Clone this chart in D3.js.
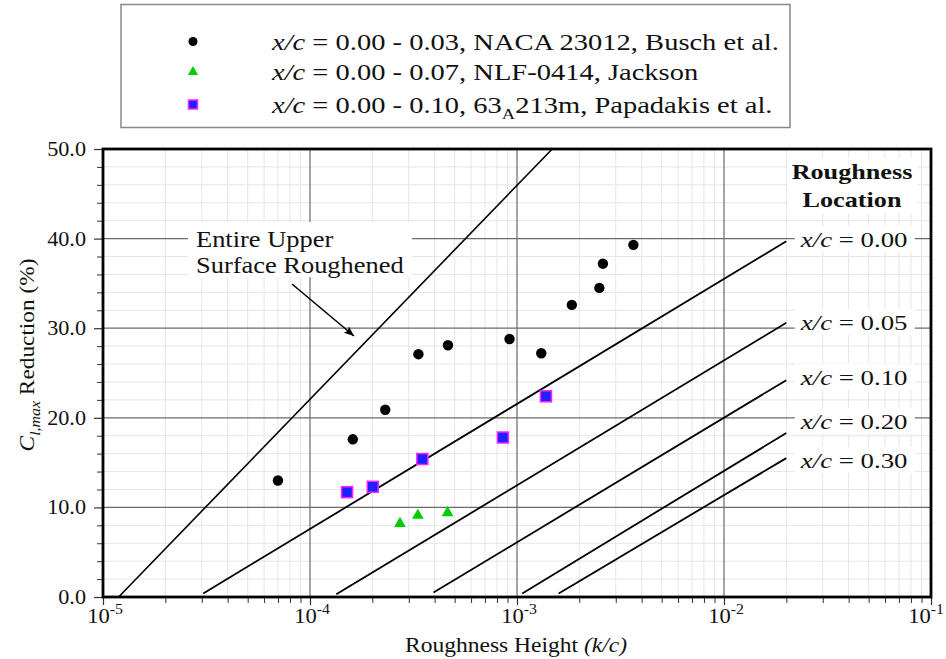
<!DOCTYPE html>
<html><head><meta charset="utf-8">
<script src="https://cdn.jsdelivr.net/npm/d3@7"></script>
<style>
body{margin:0;background:#fff;}
svg{display:block;font-family:"Liberation Serif","Times New Roman",serif;}
</style></head>
<body><svg id="c" width="946" height="659"></svg>
<script>
// ---- data ----
const buschX = [7.0e-5, 1.61e-4, 2.31e-4, 3.34e-4, 4.64e-4, 9.2e-4, 1.31e-3, 1.84e-3, 2.5e-3, 2.6e-3, 3.65e-3];
const buschY = [13.0, 17.6, 20.9, 27.1, 28.1, 28.8, 27.2, 32.6, 34.5, 37.2, 39.3];
const jacksonX = [2.72e-4, 3.32e-4, 4.62e-4];
const jacksonY = [8.2, 9.1, 9.4];
const papaX = [1.51e-4, 2.01e-4, 3.49e-4, 8.55e-4, 1.38e-3];
const papaY = [11.7, 12.3, 15.4, 17.8, 22.4];
const entireX = [1.19e-5, 1.48e-3];
const entireY = [0, 50];
const locLabels = ["0.00", "0.05", "0.10", "0.20", "0.30"];
const locStartX = [3.05e-5, 1.34e-4, 3.95e-4, 1.06e-3, 1.59e-3];
const locStartY = [0.4, 0.3, 0.5, 0.4, 0.4];
const locEndX = [0.02, 0.02, 0.02, 0.02, 0.02];
const locEndY = [39.7, 30.6, 24.2, 18.3, 15.5];
const locLabelY = [40.0, 30.7, 24.6, 19.6, 15.3];
const locLabelX = 0.0235;
const yTicks = [0, 10, 20, 30, 40, 50];
const xTicks = [1e-5, 1e-4, 1e-3, 1e-2, 1e-1];
const xTickExp = ["-5", "-4", "-3", "-2", "-1"];
const legendItems = [
  {range: "0.00 - 0.03, NACA 23012, Busch et al."},
  {range: "0.00 - 0.07, NLF-0414, Jackson"},
  {range: "0.00 - 0.10, 63", sub: "A", rest: "213m, Papadakis et al."}
];

// ---- layout ----
const svg = d3.select("#c");
const L = 103, R = 931, T = 149, B = 597;
const x = d3.scaleLog().domain([1e-5, 1e-1]).range([L, R]);
const y = d3.scaleLinear().domain([0, 50]).range([B, T]);

// text with horizontal stretch (reference typeface is wide)
function stext(parent, px, py, sx, size) {
  return parent.append("text")
    .attr("transform", `translate(${px},${py}) scale(${sx},1)`)
    .attr("font-size", size).attr("fill", "#111");
}

// minor grid
const minorX = [];
for (let e = -5; e < -1; e++) for (let m = 2; m <= 9; m++) minorX.push(m * Math.pow(10, e));
const minorY = d3.range(2, 50, 2).filter(v => v % 10 !== 0);
const g = svg.append("g");
g.selectAll(".mgx").data(minorX).join("line")
  .attr("x1", d => x(d)).attr("x2", d => x(d)).attr("y1", T).attr("y2", B)
  .attr("stroke", "#e6e6e6").attr("stroke-width", 1);
g.selectAll(".mgy").data(minorY).join("line")
  .attr("x1", L).attr("x2", R).attr("y1", d => y(d)).attr("y2", d => y(d))
  .attr("stroke", "#e6e6e6").attr("stroke-width", 1);
// major grid
g.selectAll(".Mgx").data(xTicks.slice(1, -1)).join("line")
  .attr("x1", d => x(d)).attr("x2", d => x(d)).attr("y1", T).attr("y2", B)
  .attr("stroke", "#6a6a6a").attr("stroke-width", 1.2);
g.selectAll(".Mgy").data(yTicks.slice(1, -1)).join("line")
  .attr("x1", L).attr("x2", R).attr("y1", d => y(d)).attr("y2", d => y(d))
  .attr("stroke", "#6a6a6a").attr("stroke-width", 1.2);

// axes
const fs = 20;
const yAxis = d3.axisLeft(y).tickValues(yTicks).tickFormat(d3.format(".1f")).tickSize(9).tickPadding(8);
const ya = svg.append("g").attr("transform", `translate(${L},0)`).call(yAxis);
ya.select(".domain").remove();
ya.selectAll("text").attr("font-size", fs).attr("font-family", "Liberation Serif").attr("fill", "#111")
  .attr("x", 0).attr("transform", "translate(-17,0) scale(1.11,1)");
ya.selectAll("line").attr("stroke", "#333").attr("stroke-width", 1.2);
const yMinor = svg.append("g").attr("transform", `translate(${L},0)`)
  .call(d3.axisLeft(y).tickValues(minorY).tickFormat("").tickSize(6));
yMinor.select(".domain").remove();
yMinor.selectAll("line").attr("stroke", "#333");

const xAxis = d3.axisBottom(x).tickValues(xTicks).tickFormat("").tickSize(8);
const xa = svg.append("g").attr("transform", `translate(0,${B})`).call(xAxis);
xa.select(".domain").remove();
xa.selectAll("line").attr("stroke", "#333").attr("stroke-width", 1.2);
const xMinor = svg.append("g").attr("transform", `translate(0,${B})`)
  .call(d3.axisBottom(x).tickValues(minorX).tickFormat("").tickSize(6));
xMinor.select(".domain").remove();
xMinor.selectAll("line").attr("stroke", "#333");
const xl = svg.append("g");
xTicks.forEach((v, i) => {
  const cx = i === xTicks.length - 1 ? x(v) - 5 : x(v) + 2;
  const t = stext(xl, cx, 623, 1.13, fs).attr("text-anchor", "middle");
  t.append("tspan").text("10");
  t.append("tspan").attr("dy", -9).attr("font-size", 14).text(xTickExp[i]);
});

// axis titles
const xt = stext(svg, 516, 652, 1.07, 22).attr("text-anchor", "middle");
xt.append("tspan").text("Roughness Height ");
xt.append("tspan").attr("font-style", "italic").text("(k/c)");
const yt = svg.append("text").attr("transform", "translate(34,355) rotate(-90) scale(1.06,1)").attr("text-anchor", "middle")
  .attr("font-size", 22).attr("fill", "#111");
yt.append("tspan").attr("font-style", "italic").text("C");
yt.append("tspan").attr("font-style", "italic").attr("font-size", 15).attr("dy", 6).text("l,max");
yt.append("tspan").attr("dy", -6).text(" Reduction (%)");

// annotation
const ann = svg.append("g");
ann.append("rect").attr("x", 188).attr("y", 222).attr("width", 224).attr("height", 55).attr("fill", "#fff");
stext(ann, 196, 247, 1.15, 23).text("Entire Upper");
stext(ann, 196, 273, 1.15, 23).text("Surface Roughened");

// Roughness location title
const rl = svg.append("g");
rl.append("rect").attr("x", 787).attr("y", 158).attr("width", 130).attr("height", 55).attr("fill", "#fff");
stext(rl, 852, 179, 1.19, 22).attr("text-anchor", "middle").attr("font-weight", "bold").text("Roughness");
stext(rl, 852, 207, 1.19, 22).attr("text-anchor", "middle").attr("font-weight", "bold").text("Location");

// location labels
locLabels.forEach((lab, i) => {
  const cy = y(locLabelY[i]);
  const lx = x(locLabelX);
  svg.append("rect").attr("x", lx - 6).attr("y", cy - 13).attr("width", 120).attr("height", 26).attr("fill", "#fff");
  const t = stext(svg, lx, cy + 8, 1.22, 22);
  t.append("tspan").attr("font-style", "italic").text("x/c");
  t.append("tspan").text(" = " + lab);
});

// lines
const line = d3.line().x(d => x(d[0])).y(d => y(d[1]));
svg.append("path").attr("d", line(entireX.map((v, i) => [v, entireY[i]])))
  .attr("fill", "none").attr("stroke", "#000").attr("stroke-width", 1.6);
locLabels.forEach((lab, i) => {
  svg.append("path").attr("d", line([[locStartX[i], locStartY[i]], [locEndX[i], locEndY[i]]]))
    .attr("fill", "none").attr("stroke", "#000").attr("stroke-width", 1.8);
});

// arrow
svg.append("defs").append("marker").attr("id", "ah").attr("viewBox", "0 0 10 10")
  .attr("refX", 10).attr("refY", 5).attr("markerWidth", 22).attr("markerHeight", 10)
  .attr("markerUnits", "userSpaceOnUse").attr("orient", "auto")
  .append("path").attr("d", "M0,1 L10,5 L0,9 L2,5 Z").attr("fill", "#000");
svg.append("line").attr("x1", 292).attr("y1", 284).attr("x2", 354).attr("y2", 336)
  .attr("stroke", "#000").attr("stroke-width", 1.6).attr("marker-end", "url(#ah)");

// markers
svg.selectAll(".busch").data(buschX).join("circle")
  .attr("cx", d => x(d)).attr("cy", (d, i) => y(buschY[i])).attr("r", 5.2).attr("fill", "#000");
const tri = d3.symbol().type(d3.symbolTriangle).size(60);
svg.selectAll(".jack").data(jacksonX).join("path")
  .attr("d", tri).attr("transform", (d, i) => `translate(${x(d)},${y(jacksonY[i])})`)
  .attr("fill", "#00cc00");
svg.selectAll(".papa").data(papaX).join("rect")
  .attr("x", d => x(d) - 5.5).attr("y", (d, i) => y(papaY[i]) - 5.5).attr("width", 11).attr("height", 11)
  .attr("fill", "#1f1fff").attr("stroke", "#ff22ff").attr("stroke-width", 1.5);

// frame
svg.append("rect").attr("x", L).attr("y", T).attr("width", R - L).attr("height", B - T)
  .attr("fill", "none").attr("stroke", "#000").attr("stroke-width", 2.8);

// legend
const lg = svg.append("g");
lg.append("rect").attr("x", 121).attr("y", 4.5).attr("width", 669).attr("height", 123)
  .attr("fill", "#fff").attr("stroke", "#888").attr("stroke-width", 1.5);
const rowY = [41.5, 72, 104.5];
const mx = 193;
lg.append("circle").attr("cx", mx).attr("cy", rowY[0]).attr("r", 4.5).attr("fill", "#000");
lg.append("path").attr("d", d3.symbol().type(d3.symbolTriangle).size(45))
  .attr("transform", `translate(${mx},${rowY[1]})`).attr("fill", "#00cc00");
lg.append("rect").attr("x", mx - 4.5).attr("y", rowY[2] - 4.5).attr("width", 9).attr("height", 9)
  .attr("fill", "#1f1fff").attr("stroke", "#ff22ff").attr("stroke-width", 1.5);
legendItems.forEach((it, i) => {
  const t = stext(lg, 272, rowY[i] + 8, 1.24, 23);
  t.append("tspan").attr("font-style", "italic").text("x/c");
  t.append("tspan").text(" = " + it.range);
  if (it.sub) {
    t.append("tspan").attr("font-size", 15).attr("dy", 6).text(it.sub);
    t.append("tspan").attr("dy", -6).text(it.rest);
  }
});
</script></body></html>
